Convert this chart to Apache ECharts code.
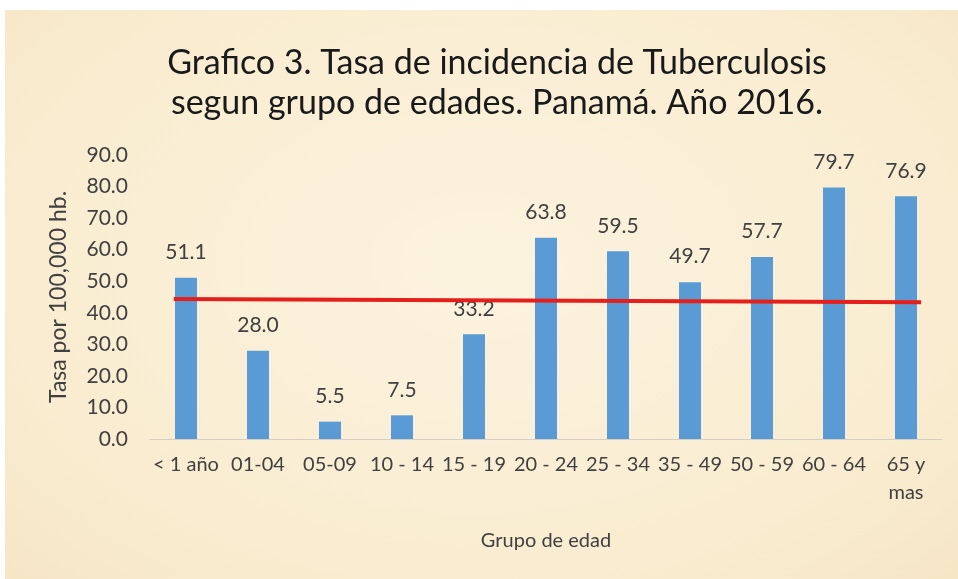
<!DOCTYPE html>
<html>
<head>
<meta charset="utf-8">
<script src="https://cdn.jsdelivr.net/npm/echarts@6/dist/echarts.min.js"></script>
<style>
  html, body { margin: 0; padding: 0; background: #ffffff; }
  .paper {
    position: absolute; left: 5px; top: 10px; width: 953px; height: 569px;
    background: radial-gradient(ellipse at 50% 45%, #fcf3df 0%, #f9ecd0 70%, #f6e6c6 100%);
  }
  .chart { position: absolute; left: 0; top: 0; width: 958px; height: 579px; }
</style>
</head>
<body>
<div class="paper"></div>
<div id="chart" class="chart"></div>
<script>
const categories = ['< 1 año', '01-04', '05-09', '10 - 14', '15 - 19', '20 - 24', '25 - 34', '35 - 49', '50 - 59', '60 - 64', '65 y\nmas']
const rates = [51.1, 28.0, 5.5, 7.5, 33.2, 63.8, 59.5, 49.7, 57.7, 79.7, 76.9]
// red reference line, endpoints in category units
const refX = [-0.17, 10.21]
const refY = [44.4, 43.3]

const textColor = '#404040'
const font = 'Lato, "Open Sans", sans-serif'

const option = {
  backgroundColor: 'transparent',
  textStyle: { fontFamily: font },
  title: {
    text: 'Grafico 3. Tasa de incidencia de Tuberculosis\nsegun grupo de edades. Panamá. Año 2016.',
    left: 492,
    textAlign: 'center',
    top: 38,
    textStyle: {
      fontFamily: font,
      fontSize: 34,
      fontWeight: 'normal',
      color: '#1a1a1a',
      lineHeight: 40,
    },
  },
  grid: {
    left: 150,
    right: 16,
    top: 155,
    bottom: 140,
  },
  xAxis: [
    {
      type: 'category',
      data: categories,
      name: 'Grupo de edad',
      nameLocation: 'middle',
      nameGap: 92,
      nameTextStyle: { fontSize: 20, color: textColor },
      axisLine: { lineStyle: { color: '#d6d0c4', width: 1 } },
      axisTick: { show: false },
      axisLabel: {
        fontSize: 20,
        color: textColor,
        margin: 12,
        lineHeight: 28,
        verticalAlign: 'top',
        interval: 0,
      },
    },
    {
      type: 'value',
      min: -0.5,
      max: 10.5,
      show: false,
    },
  ],
  yAxis: {
    type: 'value',
    min: 0,
    max: 90,
    interval: 10,
    name: 'Tasa por 100,000 hb.',
    nameLocation: 'middle',
    nameGap: 80,
    nameTextStyle: { fontSize: 23, color: textColor },
    axisLine: { show: false },
    axisTick: { show: false },
    splitLine: { show: false },
    axisLabel: {
      fontSize: 21,
      color: textColor,
      margin: 22,
      formatter: (v) => v.toFixed(1),
    },
  },
  series: [
    {
      type: 'bar',
      data: rates,
      barWidth: 22,
      itemStyle: { color: '#5b9bd5' },
      label: {
        show: true,
        position: 'top',
        distance: 15,
        fontSize: 21,
        color: textColor,
        formatter: (p) => p.value.toFixed(1),
      },
    },
    {
      type: 'line',
      xAxisIndex: 1,
      data: refX.map((x, i) => [x, refY[i]]),
      symbol: 'none',
      lineStyle: { color: '#e3201b', width: 4 },
      z: 5,
    },
  ],
}

const myEcharts = echarts.init(document.getElementById('chart'))
myEcharts.setOption(option)
</script>
</body>
</html>
